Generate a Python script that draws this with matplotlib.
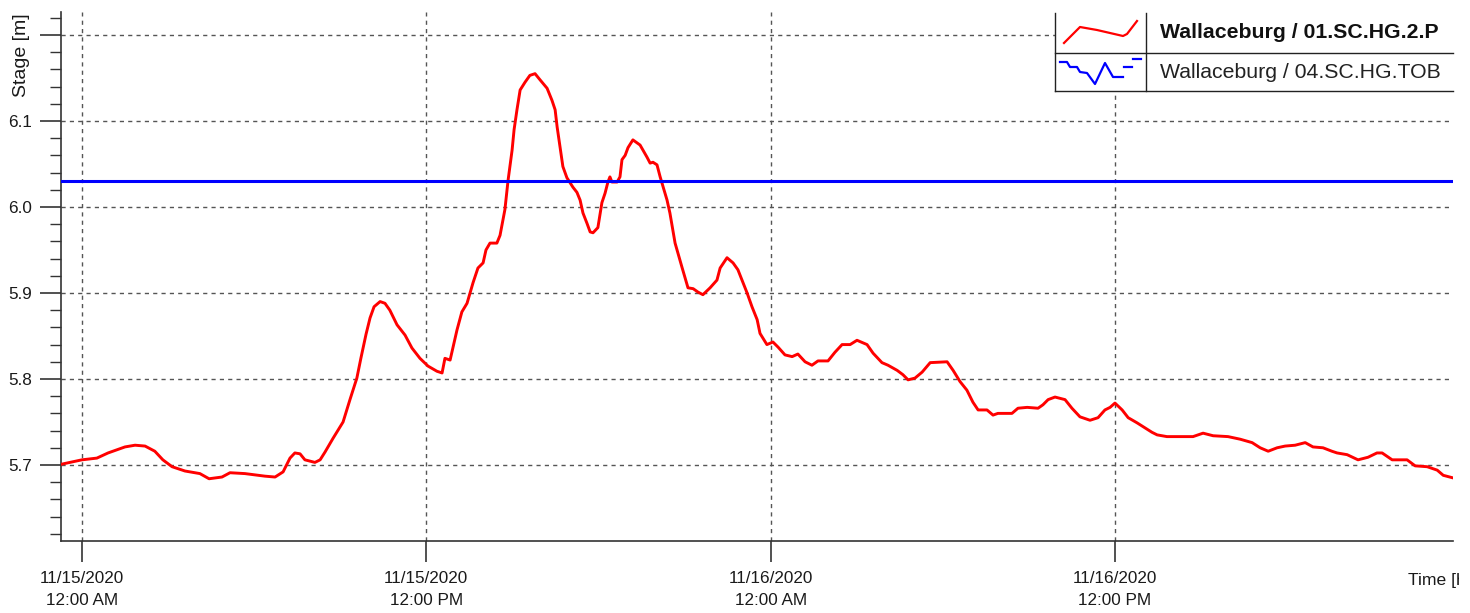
import matplotlib
matplotlib.use("Agg")
import matplotlib.pyplot as plt
from matplotlib.patches import Rectangle
from matplotlib.ticker import MultipleLocator
from matplotlib.transforms import Bbox

plt.rcParams['font.family'] = ['Liberation Sans', 'DejaVu Sans']

# 水位数据: 时间为 11/15/2020 00:00 起的小时数
hours = [-0.70, 0.00, 0.52, 0.91, 1.50, 1.85, 2.20, 2.54, 2.82, 3.14,
         3.59, 4.11, 4.43, 4.88, 5.16, 5.68, 6.38, 6.73, 7.01, 7.25,
         7.42, 7.60, 7.77, 8.12, 8.30, 8.47, 8.75, 9.10, 9.34, 9.58,
         9.72, 9.90, 10.04, 10.18, 10.39, 10.56, 10.73, 10.98, 11.26, 11.50,
         11.78, 12.06, 12.37, 12.55, 12.65, 12.83, 13.07, 13.24, 13.42, 13.63,
         13.80, 13.98, 14.08, 14.22, 14.46, 14.57, 14.74, 14.85, 14.99, 15.06,
         15.16, 15.27, 15.44, 15.61, 15.79, 15.96, 16.21, 16.38, 16.49, 16.56,
         16.66, 16.76, 16.90, 17.11, 17.25, 17.36, 17.46, 17.60, 17.71, 17.81,
         17.98, 18.12, 18.23, 18.33, 18.40, 18.47, 18.65, 18.75, 18.82, 18.93,
         19.03, 19.20, 19.45, 19.69, 19.80, 19.90, 20.04, 20.15, 20.39, 20.49,
         20.67, 20.91, 21.12, 21.30, 21.47, 21.64, 21.89, 22.13, 22.24, 22.48,
         22.69, 22.86, 23.18, 23.35, 23.53, 23.63, 23.87, 24.08, 24.26, 24.50,
         24.75, 24.95, 25.20, 25.44, 25.65, 26.00, 26.24, 26.49, 26.77, 27.01,
         27.36, 27.57, 27.88, 28.09, 28.41, 28.61, 28.79, 29.03, 29.28, 29.56,
         30.15, 30.36, 30.60, 30.84, 31.05, 31.23, 31.54, 31.75, 31.92, 32.41,
         32.62, 32.94, 33.32, 33.49, 33.67, 33.91, 34.26, 34.50, 34.78, 35.13,
         35.41, 35.65, 35.83, 36.00, 36.25, 36.46, 36.77, 37.05, 37.29, 37.47,
         37.81, 38.34, 38.72, 39.07, 39.42, 39.94, 40.36, 40.78, 41.06, 41.34,
         41.65, 41.93, 42.28, 42.63, 42.90, 43.25, 43.56, 43.74, 44.09, 44.47,
         44.82, 45.13, 45.31, 45.66, 46.18, 46.46, 46.88, 47.23, 47.44, 47.78]

stage = [5.701, 5.706, 5.708, 5.714, 5.721, 5.723, 5.722, 5.716, 5.706, 5.698,
         5.693, 5.690, 5.684, 5.686, 5.691, 5.690, 5.687, 5.686, 5.692, 5.708,
         5.714, 5.713, 5.706, 5.703, 5.706, 5.715, 5.731, 5.750, 5.776, 5.801,
         5.824, 5.852, 5.871, 5.884, 5.890, 5.888, 5.880, 5.863, 5.851, 5.836,
         5.824, 5.815, 5.809, 5.807, 5.824, 5.822, 5.857, 5.878, 5.888, 5.912,
         5.929, 5.935, 5.950, 5.958, 5.958, 5.967, 5.997, 6.031, 6.066, 6.090,
         6.113, 6.136, 6.145, 6.153, 6.155, 6.148, 6.138, 6.124, 6.113, 6.093,
         6.070, 6.047, 6.034, 6.023, 6.017, 6.008, 5.993, 5.981, 5.971, 5.970,
         5.976, 6.005, 6.016, 6.029, 6.035, 6.029, 6.029, 6.035, 6.055, 6.060,
         6.069, 6.078, 6.072, 6.058, 6.051, 6.052, 6.049, 6.035, 6.008, 5.993,
         5.958, 5.930, 5.906, 5.905, 5.901, 5.898, 5.906, 5.915, 5.929, 5.941,
         5.935, 5.927, 5.900, 5.884, 5.869, 5.853, 5.840, 5.843, 5.837, 5.828,
         5.826, 5.829, 5.820, 5.816, 5.821, 5.821, 5.831, 5.840, 5.840, 5.845,
         5.840, 5.830, 5.819, 5.816, 5.810, 5.805, 5.799, 5.801, 5.808, 5.819,
         5.820, 5.810, 5.797, 5.787, 5.773, 5.764, 5.764, 5.758, 5.760, 5.760,
         5.766, 5.767, 5.766, 5.770, 5.776, 5.779, 5.776, 5.766, 5.756, 5.752,
         5.755, 5.764, 5.767, 5.772, 5.764, 5.755, 5.749, 5.743, 5.738, 5.735,
         5.733, 5.733, 5.733, 5.737, 5.734, 5.733, 5.730, 5.726, 5.720, 5.716,
         5.720, 5.722, 5.723, 5.726, 5.721, 5.720, 5.716, 5.714, 5.712, 5.706,
         5.709, 5.714, 5.714, 5.706, 5.706, 5.699, 5.698, 5.694, 5.688, 5.685]

# 堤顶高程 (常数)
tob_hours = [-0.73, 47.78]
tob_stage = [6.03, 6.03]

series_names = ['Wallaceburg / 01.SC.HG.2.P', 'Wallaceburg / 04.SC.HG.TOB']
x_ticks = [0, 12, 24, 36]
x_tick_labels = ['11/15/2020\n12:00 AM', '11/15/2020\n12:00 PM',
                 '11/16/2020\n12:00 AM', '11/16/2020\n12:00 PM']
y_ticks = [5.7, 5.8, 5.9, 6.0, 6.1, 6.2]
y_tick_labels = ['5.7', '5.8', '5.9', '6.0', '6.1', '']

W, H = 1470, 613
fig = plt.figure(figsize=(W / 100, H / 100), dpi=100)
ax = fig.add_axes([61 / W, (H - 540.5) / H, (1453 - 61) / W, (540.5 - 12) / H])

ax.plot(hours, stage, color='#ff0000', lw=2.1, zorder=3)
ax.plot(tob_hours, tob_stage, color='#0000ff', lw=2.2, zorder=3)

ax.set_xlim(-0.73, 47.78)
ax.set_ylim(5.6122, 6.2267)

ax.set_xticks(x_ticks)
ax.set_xticklabels(x_tick_labels, fontsize=12.3, color='#1a1a1a')
for lab in ax.get_xticklabels():
    lab.set_linespacing(1.55)
ax.set_yticks(y_ticks)
ax.set_yticklabels(y_tick_labels, fontsize=12.3, color='#1a1a1a')
ax.yaxis.set_minor_locator(MultipleLocator(0.02))

ax.tick_params(axis='x', which='major', length=15, width=1.2, color='#333333', pad=7)
ax.tick_params(axis='y', which='major', length=15, width=1.2, color='#333333', pad=6)
ax.tick_params(axis='y', which='minor', length=8, width=1.0, color='#333333')

ax.grid(True, which='major', color='#555555', linestyle=(0, (3, 3)), lw=1.0)
for s in ['top', 'right']:
    ax.spines[s].set_visible(False)
for s in ['left', 'bottom']:
    ax.spines[s].set_color('#333333')
    ax.spines[s].set_linewidth(1.2)

# 轴标签
fig.text(22 / W, 1 - 13 / H, 'Stage [m]', rotation=90, ha='center', va='top',
         fontsize=14, color='#1a1a1a')
t = fig.text(1408 / W, 1 - 580 / H, 'Time [h]', ha='left', va='center',
             fontsize=12.6, color='#1a1a1a')
# 原图右侧被裁掉, 只露出 "Time ["
t.set_clip_box(Bbox([[0, 0], [1459, H]]))
t.set_clip_on(True)

# 图例 (表格样式)
ov = fig.add_axes([0, 0, 1, 1])
ov.set_xlim(0, W)
ov.set_ylim(H, 0)
ov.axis('off')
ov.patch.set_alpha(0)
ov.add_patch(Rectangle((1055, 0), 398, 91, facecolor='white', edgecolor='none'))
box_col = '#222222'
ov.plot([1055, 1055], [13, 91], color=box_col, lw=1)
ov.plot([1146, 1146], [13, 91], color=box_col, lw=1)
ov.plot([1055, 1453], [53, 53], color=box_col, lw=1)
ov.plot([1055, 1453], [91, 91], color=box_col, lw=1)

red_icon_x = [1064, 1080, 1097, 1123, 1127, 1137]
red_icon_y = [43, 27, 30, 36, 34, 21]
ov.plot(red_icon_x, red_icon_y, color='#ff0000', lw=1.6)
blue_icon_x = [1060, 1067, 1070, 1077, 1080, 1087, 1095, 1105, 1113, 1123]
blue_icon_y = [62, 62, 67, 67, 72, 73, 84, 63, 77, 77]
ov.plot(blue_icon_x, blue_icon_y, color='#0000ff', lw=1.6)
ov.plot([1124, 1132], [67, 67], color='#0000ff', lw=1.6)
ov.plot([1133, 1141], [59, 59], color='#0000ff', lw=1.6)

ov.text(1160, 38, series_names[0], fontsize=15.3, fontweight='bold',
        va='baseline', ha='left', color='#111111')
ov.text(1160, 78, series_names[1], fontsize=15.3, va='baseline', ha='left',
        color='#222222')

fig.savefig('out.png', dpi=100)
